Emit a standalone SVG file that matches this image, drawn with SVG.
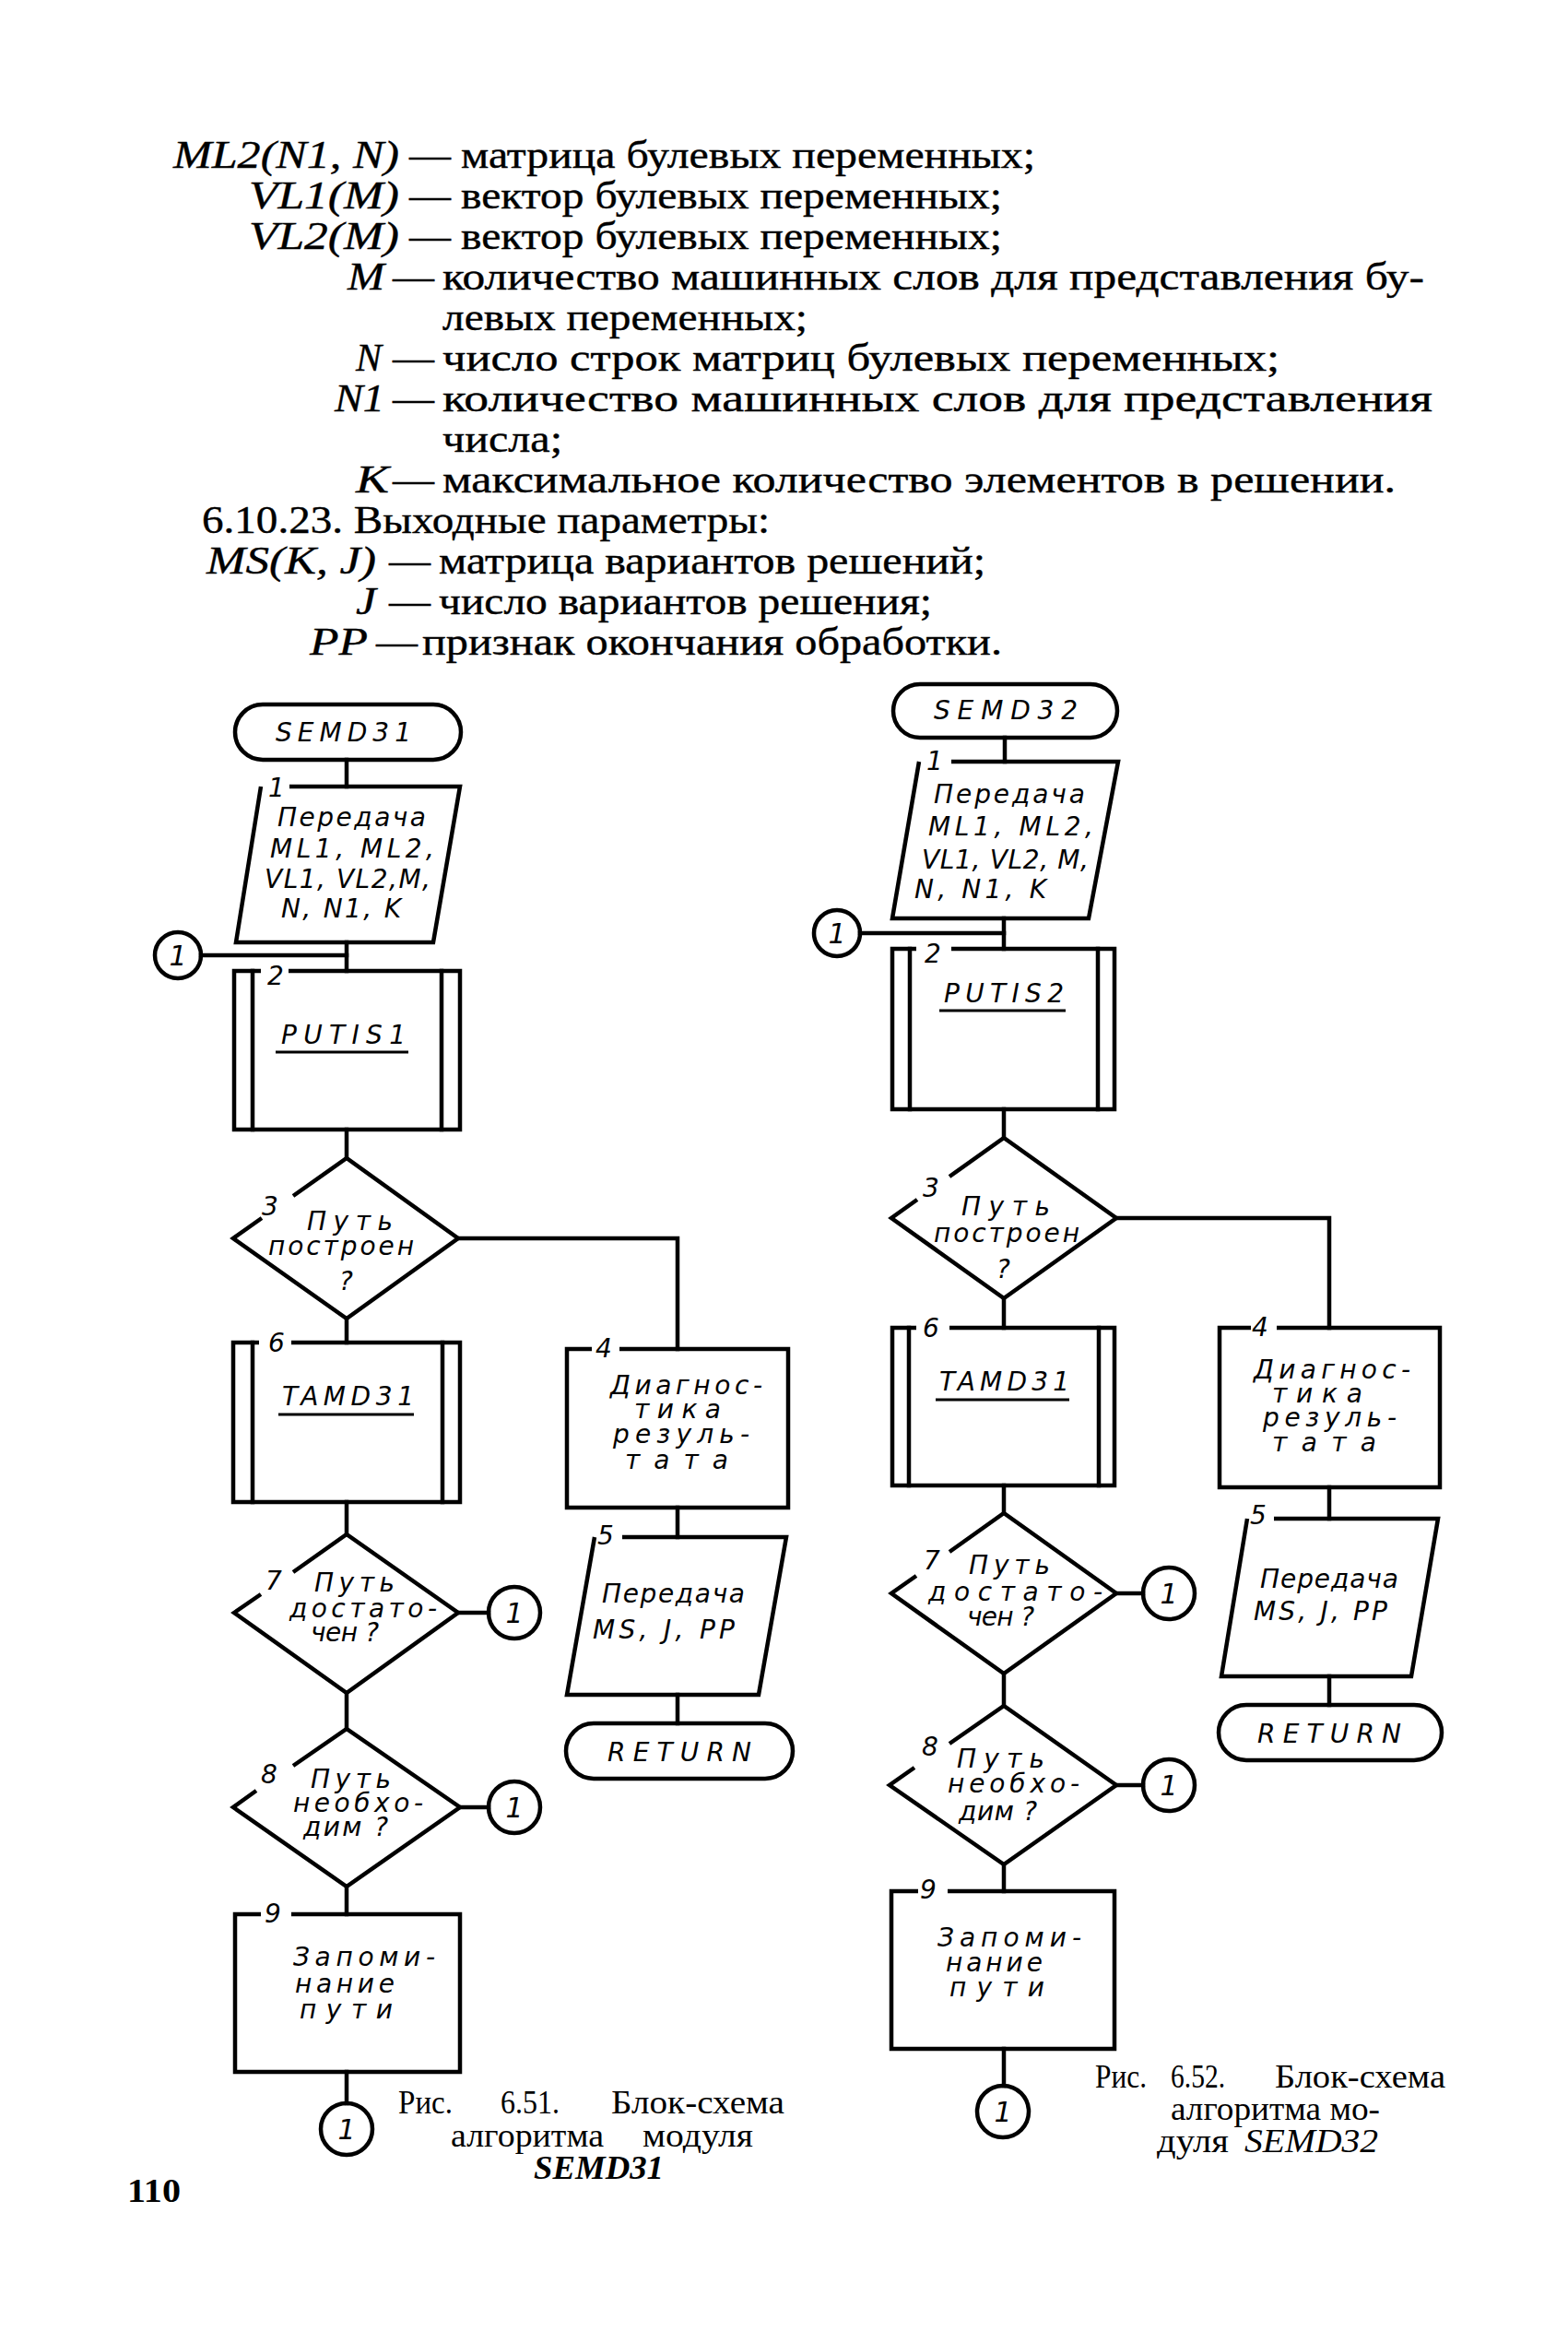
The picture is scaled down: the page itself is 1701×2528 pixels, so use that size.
<svg xmlns="http://www.w3.org/2000/svg" width="1701" height="2528" viewBox="0 0 1701 2528">
<style>
.ln{stroke:#000;stroke-width:4.5;fill:none;stroke-linejoin:miter;stroke-linecap:square}
.sh{stroke:#000;stroke-width:4.5;fill:none}
.ul{stroke:#000;stroke-width:3}
.t{font-family:"DejaVu Sans",sans-serif;font-style:italic;font-size:28px;fill:#000}
.n{font-family:"DejaVu Sans",sans-serif;font-style:italic;font-size:28px;fill:#000}
.c{font-family:"DejaVu Sans",sans-serif;font-style:italic;font-size:30px;fill:#000;text-anchor:middle}
.b{font-family:"Liberation Serif",serif;font-size:42px;fill:#000;stroke:#000;stroke-width:0.4}
.bi{font-family:"Liberation Serif",serif;font-size:42px;font-style:italic;fill:#000;stroke:#000;stroke-width:0.4}
.cap{font-family:"Liberation Serif",serif;font-size:35px;fill:#000}
</style>
<rect width="1701" height="2528" fill="#fff"/>

<g id="body-text">
<text class="bi" x="188" y="182" textLength="245" lengthAdjust="spacingAndGlyphs">ML2(N1, N)</text>
<text class="b" x="444" y="182" textLength="45" lengthAdjust="spacingAndGlyphs">—</text>
<text class="b" x="500" y="182" textLength="623" lengthAdjust="spacingAndGlyphs">матрица булевых переменных;</text>

<text class="bi" x="270" y="226" textLength="163" lengthAdjust="spacingAndGlyphs">VL1(M)</text>
<text class="b" x="444" y="226" textLength="45" lengthAdjust="spacingAndGlyphs">—</text>
<text class="b" x="500" y="226" textLength="587" lengthAdjust="spacingAndGlyphs">вектор булевых переменных;</text>

<text class="bi" x="270" y="270" textLength="163" lengthAdjust="spacingAndGlyphs">VL2(M)</text>
<text class="b" x="444" y="270" textLength="45" lengthAdjust="spacingAndGlyphs">—</text>
<text class="b" x="500" y="270" textLength="587" lengthAdjust="spacingAndGlyphs">вектор булевых переменных;</text>

<text class="bi" x="377" y="314" textLength="40" lengthAdjust="spacingAndGlyphs">M</text>
<text class="b" x="426" y="314" textLength="45" lengthAdjust="spacingAndGlyphs">—</text>
<text class="b" x="480" y="314" textLength="1065" lengthAdjust="spacingAndGlyphs">количество  машинных  слов  для  представления  бу-</text>

<text class="b" x="480" y="358" textLength="396" lengthAdjust="spacingAndGlyphs">левых переменных;</text>

<text class="bi" x="386" y="402" textLength="28" lengthAdjust="spacingAndGlyphs">N</text>
<text class="b" x="426" y="402" textLength="45" lengthAdjust="spacingAndGlyphs">—</text>
<text class="b" x="480" y="402" textLength="908" lengthAdjust="spacingAndGlyphs">число  строк  матриц  булевых  переменных;</text>

<text class="bi" x="363" y="446" textLength="54" lengthAdjust="spacingAndGlyphs">N1</text>
<text class="b" x="426" y="446" textLength="45" lengthAdjust="spacingAndGlyphs">—</text>
<text class="b" x="480" y="446" textLength="1074" lengthAdjust="spacingAndGlyphs">количество   машинных   слов   для     представления</text>

<text class="b" x="480" y="490" textLength="130" lengthAdjust="spacingAndGlyphs">числа;</text>

<text class="bi" x="386" y="534" textLength="36" lengthAdjust="spacingAndGlyphs">K</text>
<text class="b" x="426" y="534" textLength="45" lengthAdjust="spacingAndGlyphs">—</text>
<text class="b" x="480" y="534" textLength="1034" lengthAdjust="spacingAndGlyphs">максимальное  количество  элементов  в  решении.</text>

<text class="b" x="219" y="578" textLength="616" lengthAdjust="spacingAndGlyphs">6.10.23. Выходные параметры:</text>

<text class="bi" x="224" y="622" textLength="184" lengthAdjust="spacingAndGlyphs">MS(K, J)</text>
<text class="b" x="422" y="622" textLength="45" lengthAdjust="spacingAndGlyphs">—</text>
<text class="b" x="476" y="622" textLength="593" lengthAdjust="spacingAndGlyphs">матрица вариантов решений;</text>

<text class="bi" x="386" y="666" textLength="22" lengthAdjust="spacingAndGlyphs">J</text>
<text class="b" x="422" y="666" textLength="45" lengthAdjust="spacingAndGlyphs">—</text>
<text class="b" x="476" y="666" textLength="535" lengthAdjust="spacingAndGlyphs">число вариантов решения;</text>

<text class="bi" x="336" y="710" textLength="63" lengthAdjust="spacingAndGlyphs">PP</text>
<text class="b" x="408" y="710" textLength="45" lengthAdjust="spacingAndGlyphs">—</text>
<text class="b" x="458" y="710" textLength="629" lengthAdjust="spacingAndGlyphs">признак окончания обработки.</text>
</g>

<!-- ================= LEFT CHART (SEMD31) ================= -->
<g id="connectors-left">
<line class="ln" x1="376" y1="824" x2="376" y2="853"/>
<line class="ln" x1="376" y1="1022" x2="376" y2="1053"/>
<line class="ln" x1="218" y1="1036" x2="376" y2="1036"/>
<line class="ln" x1="376" y1="1225" x2="376" y2="1256"/>
<polyline class="ln" points="497,1343 735,1343 735,1463"/>
<line class="ln" x1="376" y1="1430" x2="376" y2="1456"/>
<line class="ln" x1="376" y1="1629" x2="376" y2="1664"/>
<line class="ln" x1="497" y1="1749" x2="530" y2="1749"/>
<line class="ln" x1="376" y1="1836" x2="376" y2="1875"/>
<line class="ln" x1="499" y1="1960" x2="530" y2="1960"/>
<line class="ln" x1="376" y1="2046" x2="376" y2="2076"/>
<line class="ln" x1="376" y1="2247" x2="376" y2="2281"/>
<line class="ln" x1="735" y1="1635" x2="735" y2="1667"/>
<line class="ln" x1="735" y1="1838" x2="735" y2="1869"/>
</g>

<g id="L-start">
<rect class="sh" x="255" y="764" width="245" height="60" rx="30"/>
<text class="t" x="299" y="804" textLength="147" lengthAdjust="spacing">SEMD31</text>
</g>

<g id="L-b1">
<path class="sh" d="M314,853 L499,853 L470,1022 L256,1022 L283,853"/>
<text class="n" x="291" y="864">1</text>
<text class="t" x="301" y="896" textLength="161" lengthAdjust="spacing">Передача</text>
<text class="t" x="293" y="930" textLength="178" lengthAdjust="spacing">ML1, ML2,</text>
<text class="t" x="287" y="963" textLength="180" lengthAdjust="spacing">VL1, VL2,M,</text>
<text class="t" x="305" y="995" textLength="130" lengthAdjust="spacing">N, N1, K</text>
</g>

<g id="L-c0">
<circle class="sh" cx="193" cy="1036" r="25"/>
<text class="c" x="193" y="1047">1</text>
</g>

<g id="L-b2">
<path class="sh" d="M283,1053 L254,1053 L254,1225 L499,1225 L499,1053 L313,1053"/>
<line class="ln" x1="274" y1="1053" x2="274" y2="1225"/>
<line class="ln" x1="479" y1="1053" x2="479" y2="1225"/>
<text class="n" x="290" y="1068">2</text>
<text class="t" x="305" y="1132" textLength="135" lengthAdjust="spacing">PUTIS1</text>
<line class="ul" x1="299" y1="1141" x2="443" y2="1141"/>
</g>

<g id="L-d3">
<path class="sh" d="M284,1321 L253,1343 L376,1430 L497,1343 L376,1256 L318,1297"/>
<text class="n" x="284" y="1318">3</text>
<text class="t" x="333" y="1334" textLength="93" lengthAdjust="spacing">Путь</text>
<text class="t" x="291" y="1361" textLength="158" lengthAdjust="spacing">построен</text>
<text class="t" x="368" y="1399">?</text>
</g>

<g id="L-b6">
<path class="sh" d="M281,1456 L253,1456 L253,1629 L499,1629 L499,1456 L316,1456"/>
<line class="ln" x1="274" y1="1456" x2="274" y2="1629"/>
<line class="ln" x1="480" y1="1456" x2="480" y2="1629"/>
<text class="n" x="291" y="1466">6</text>
<text class="t" x="306" y="1524" textLength="143" lengthAdjust="spacing">TAMD31</text>
<line class="ul" x1="302" y1="1534" x2="449" y2="1534"/>
</g>

<g id="L-b4">
<path class="sh" d="M642,1463 L615,1463 L615,1635 L855,1635 L855,1463 L672,1463"/>
<text class="n" x="646" y="1472">4</text>
<text class="t" x="662" y="1512" textLength="165" lengthAdjust="spacing">Диагнос-</text>
<text class="t" x="688" y="1538" textLength="94" lengthAdjust="spacing">тика</text>
<text class="t" x="665" y="1565" textLength="148" lengthAdjust="spacing">резуль-</text>
<text class="t" x="678" y="1593" textLength="112" lengthAdjust="spacing">тата</text>
</g>

<g id="L-b5">
<path class="sh" d="M675,1667 L853,1667 L823,1838 L615,1838 L645,1667"/>
<text class="n" x="648" y="1675">5</text>
<text class="t" x="653" y="1738" textLength="155" lengthAdjust="spacing">Передача</text>
<text class="t" x="643" y="1777" textLength="154" lengthAdjust="spacing">MS, J, PP</text>
</g>

<g id="L-return">
<rect class="sh" x="614" y="1869" width="246" height="60" rx="30"/>
<text class="t" x="659" y="1910" textLength="156" lengthAdjust="spacing">RETURN</text>
</g>

<g id="L-d7">
<path class="sh" d="M283,1729 L254,1749 L376,1836 L497,1749 L376,1664 L318,1705"/>
<text class="n" x="288" y="1724">7</text>
<text class="t" x="341" y="1726" textLength="87" lengthAdjust="spacing">Путь</text>
<text class="t" x="314" y="1754" textLength="160" lengthAdjust="spacing">достато-</text>
<text class="t" x="337" y="1780" textLength="74" lengthAdjust="spacing">чен ?</text>
</g>
<g id="L-c7">
<circle class="sh" cx="558" cy="1749" r="28"/>
<text class="c" x="558" y="1760">1</text>
</g>

<g id="L-d8">
<path class="sh" d="M278,1942 L253,1960 L376,2046 L499,1960 L376,1875 L318,1915"/>
<text class="n" x="283" y="1934">8</text>
<text class="t" x="337" y="1939" textLength="87" lengthAdjust="spacing">Путь</text>
<text class="t" x="318" y="1965" textLength="141" lengthAdjust="spacing">необхо-</text>
<text class="t" x="329" y="1991" textLength="92" lengthAdjust="spacing">дим ?</text>
</g>
<g id="L-c8">
<circle class="sh" cx="558" cy="1960" r="28"/>
<text class="c" x="558" y="1971">1</text>
</g>

<g id="L-b9">
<path class="sh" d="M283,2076 L255,2076 L255,2247 L499,2247 L499,2076 L316,2076"/>
<text class="n" x="287" y="2085">9</text>
<text class="t" x="318" y="2132" textLength="154" lengthAdjust="spacing">Запоми-</text>
<text class="t" x="320" y="2161" textLength="108" lengthAdjust="spacing">нание</text>
<text class="t" x="325" y="2189" textLength="101" lengthAdjust="spacing">пути</text>
</g>
<g id="L-c9">
<circle class="sh" cx="376" cy="2309" r="28"/>
<text class="c" x="376" y="2320">1</text>
</g>

<g id="L-caption">
<text class="cap" x="432" y="2292" textLength="59" lengthAdjust="spacingAndGlyphs">Рис.</text>
<text class="cap" x="543" y="2292" textLength="64" lengthAdjust="spacingAndGlyphs">6.51.</text>
<text class="cap" x="663" y="2292" textLength="188" lengthAdjust="spacingAndGlyphs">Блок-схема</text>
<text class="cap" x="489" y="2328" textLength="166" lengthAdjust="spacingAndGlyphs">алгоритма</text>
<text class="cap" x="697" y="2328" textLength="120" lengthAdjust="spacingAndGlyphs">модуля</text>
<text class="cap" x="579" y="2363" textLength="141" lengthAdjust="spacingAndGlyphs" font-weight="bold" font-style="italic">SEMD31</text>
</g>

<!-- ================= RIGHT CHART (SEMD32) ================= -->
<g id="connectors-right">
<line class="ln" x1="1090" y1="800" x2="1090" y2="826"/>
<line class="ln" x1="1089" y1="996" x2="1089" y2="1029"/>
<line class="ln" x1="933" y1="1012" x2="1089" y2="1012"/>
<line class="ln" x1="1089" y1="1203" x2="1089" y2="1234"/>
<polyline class="ln" points="1211,1321 1442,1321 1442,1440"/>
<line class="ln" x1="1089" y1="1408" x2="1089" y2="1440"/>
<line class="ln" x1="1089" y1="1611" x2="1089" y2="1641"/>
<line class="ln" x1="1211" y1="1728" x2="1240" y2="1728"/>
<line class="ln" x1="1089" y1="1815" x2="1089" y2="1850"/>
<line class="ln" x1="1211" y1="1936" x2="1240" y2="1936"/>
<line class="ln" x1="1089" y1="2022" x2="1089" y2="2051"/>
<line class="ln" x1="1089" y1="2222" x2="1089" y2="2262"/>
<line class="ln" x1="1442" y1="1613" x2="1442" y2="1647"/>
<line class="ln" x1="1442" y1="1818" x2="1442" y2="1849"/>
</g>

<g id="R-start">
<rect class="sh" x="969" y="742" width="243" height="58" rx="29"/>
<text class="t" x="1013" y="780" textLength="156" lengthAdjust="spacing">SEMD32</text>
</g>

<g id="R-b1">
<path class="sh" d="M1032,826 L1213,826 L1181,996 L968,996 L997,826"/>
<text class="n" x="1005" y="835">1</text>
<text class="t" x="1013" y="871" textLength="164" lengthAdjust="spacing">Передача</text>
<text class="t" x="1007" y="906" textLength="179" lengthAdjust="spacing">ML1, ML2,</text>
<text class="t" x="1000" y="942" textLength="181" lengthAdjust="spacing">VL1, VL2, M,</text>
<text class="t" x="992" y="974" textLength="143" lengthAdjust="spacing">N, N1, K</text>
</g>

<g id="R-c0">
<circle class="sh" cx="908" cy="1012" r="25"/>
<text class="c" x="908" y="1023">1</text>
</g>

<g id="R-b2">
<path class="sh" d="M994,1029 L968,1029 L968,1203 L1209,1203 L1209,1029 L1032,1029"/>
<line class="ln" x1="987" y1="1029" x2="987" y2="1203"/>
<line class="ln" x1="1191" y1="1029" x2="1191" y2="1203"/>
<text class="n" x="1003" y="1044">2</text>
<text class="t" x="1024" y="1087" textLength="130" lengthAdjust="spacing">PUTIS2</text>
<line class="ul" x1="1019" y1="1096" x2="1156" y2="1096"/>
</g>

<g id="R-d3">
<path class="sh" d="M995,1301 L967,1321 L1089,1408 L1211,1321 L1089,1234 L1030,1276"/>
<text class="n" x="1001" y="1298">3</text>
<text class="t" x="1043" y="1318" textLength="96" lengthAdjust="spacing">Путь</text>
<text class="t" x="1013" y="1347" textLength="158" lengthAdjust="spacing">построен</text>
<text class="t" x="1081" y="1386">?</text>
</g>

<g id="R-b6">
<path class="sh" d="M994,1440 L968,1440 L968,1611 L1209,1611 L1209,1440 L1030,1440"/>
<line class="ln" x1="986" y1="1440" x2="986" y2="1611"/>
<line class="ln" x1="1192" y1="1440" x2="1192" y2="1611"/>
<text class="n" x="1001" y="1450">6</text>
<text class="t" x="1019" y="1508" textLength="141" lengthAdjust="spacing">TAMD31</text>
<line class="ul" x1="1015" y1="1518" x2="1160" y2="1518"/>
</g>

<g id="R-b4">
<path class="sh" d="M1357,1440 L1323,1440 L1323,1613 L1562,1613 L1562,1440 L1385,1440"/>
<text class="n" x="1358" y="1449">4</text>
<text class="t" x="1360" y="1495" textLength="170" lengthAdjust="spacing">Диагнос-</text>
<text class="t" x="1380" y="1521" textLength="98" lengthAdjust="spacing">тика</text>
<text class="t" x="1370" y="1547" textLength="145" lengthAdjust="spacing">резуль-</text>
<text class="t" x="1380" y="1574" textLength="113" lengthAdjust="spacing">тата</text>
</g>

<g id="R-b5">
<path class="sh" d="M1382,1647 L1560,1647 L1531,1818 L1325,1818 L1353,1647"/>
<text class="n" x="1356" y="1653">5</text>
<text class="t" x="1367" y="1722" textLength="150" lengthAdjust="spacing">Передача</text>
<text class="t" x="1360" y="1757" textLength="145" lengthAdjust="spacing">MS, J, PP</text>
</g>

<g id="R-return">
<rect class="sh" x="1322" y="1849" width="242" height="60" rx="30"/>
<text class="t" x="1364" y="1890" textLength="156" lengthAdjust="spacing">RETURN</text>
</g>

<g id="R-d7">
<path class="sh" d="M994,1709 L967,1728 L1089,1815 L1211,1728 L1089,1641 L1030,1683"/>
<text class="n" x="1002" y="1702">7</text>
<text class="t" x="1051" y="1707" textLength="88" lengthAdjust="spacing">Путь</text>
<text class="t" x="1007" y="1736" textLength="189" lengthAdjust="spacing">достато-</text>
<text class="t" x="1049" y="1763" textLength="73" lengthAdjust="spacing">чен ?</text>
</g>
<g id="R-c7">
<circle class="sh" cx="1268" cy="1728" r="28"/>
<text class="c" x="1268" y="1739">1</text>
</g>

<g id="R-d8">
<path class="sh" d="M992,1917 L965,1936 L1089,2022 L1211,1936 L1089,1850 L1030,1891"/>
<text class="n" x="1000" y="1904">8</text>
<text class="t" x="1038" y="1917" textLength="95" lengthAdjust="spacing">Путь</text>
<text class="t" x="1028" y="1944" textLength="143" lengthAdjust="spacing">необхо-</text>
<text class="t" x="1040" y="1974" textLength="85" lengthAdjust="spacing">дим ?</text>
</g>
<g id="R-c8">
<circle class="sh" cx="1268" cy="1936" r="28"/>
<text class="c" x="1268" y="1947">1</text>
</g>

<g id="R-b9">
<path class="sh" d="M996,2051 L967,2051 L967,2222 L1209,2222 L1209,2051 L1028,2051"/>
<text class="n" x="998" y="2059">9</text>
<text class="t" x="1017" y="2111" textLength="156" lengthAdjust="spacing">Запоми-</text>
<text class="t" x="1026" y="2138" textLength="105" lengthAdjust="spacing">нание</text>
<text class="t" x="1030" y="2165" textLength="103" lengthAdjust="spacing">пути</text>
</g>
<g id="R-c9">
<circle class="sh" cx="1088" cy="2290" r="28"/>
<text class="c" x="1088" y="2301">1</text>
</g>

<g id="R-caption">
<text class="cap" x="1188" y="2264" textLength="56" lengthAdjust="spacingAndGlyphs">Рис.</text>
<text class="cap" x="1270" y="2264" textLength="59" lengthAdjust="spacingAndGlyphs">6.52.</text>
<text class="cap" x="1383" y="2264" textLength="185" lengthAdjust="spacingAndGlyphs">Блок-схема</text>
<text class="cap" x="1270" y="2299" textLength="227" lengthAdjust="spacingAndGlyphs">алгоритма мо-</text>
<text class="cap" x="1255" y="2334" textLength="78" lengthAdjust="spacingAndGlyphs">дуля</text>
<text class="cap" x="1350" y="2334" textLength="145" lengthAdjust="spacingAndGlyphs" font-style="italic">SEMD32</text>
</g>

<g id="page-number">
<text class="cap" x="138" y="2388" textLength="58" lengthAdjust="spacingAndGlyphs" font-weight="bold">110</text>
</g>
</svg>
